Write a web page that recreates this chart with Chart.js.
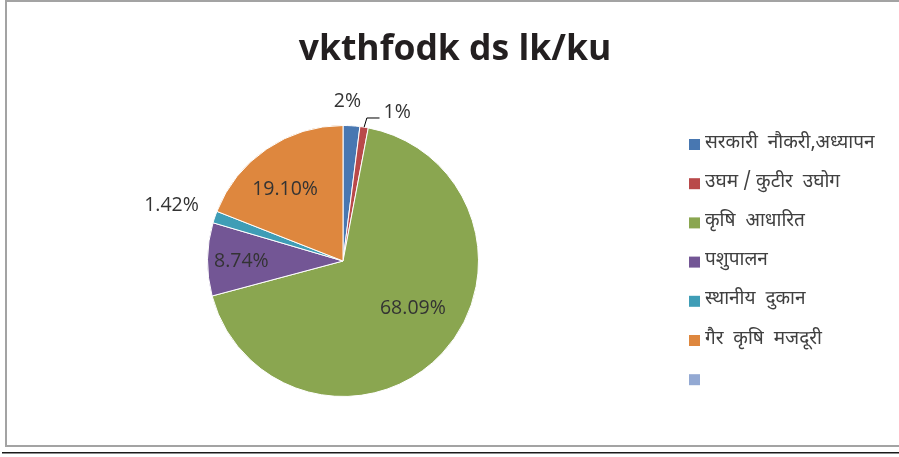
<!DOCTYPE html>
<html>
<head>
<meta charset="utf-8">
<script src="https://cdn.jsdelivr.net/npm/chart.js@4/dist/chart.umd.min.js"></script>
<style>
  html, body { margin: 0; padding: 0; background: #fff; }
  #wrap { width: 899px; height: 457px; position: relative; }
</style>
</head>
<body>
<div id="wrap"><canvas id="c" width="899" height="457"></canvas></div>
<script>
// Chart content
const chartTitle = 'vkthfodk ds lk/ku';
const categories = [
  'सरकारी  नौकरी,अध्यापन',
  'उघम / कुटीर  उघोग',
  'कृषि  आधारित',
  'पशुपालन',
  'स्थानीय  दुकान',
  'गैर  कृषि  मजदूरी',
  ''
];
const shares = [2, 1, 68.09, 8.74, 1.42, 19.10, 0];

// Styling
const sliceColors = ['#4877B1', '#B9494A', '#8AA650', '#735695', '#3F9DB6', '#DE873E', '#93A9D3'];
// Label placement: radius factor and angular nudge (degrees) from each slice's middle
const labelPlacement = [
  { r: 1.18, da: -2 },
  { r: 1.17, da: 11, leader: true },
  { r: 0.625, da: -8.5 },
  { r: 0.75, da: -0.7 },
  { r: 1.33, da: -1 },
  { r: 0.68, da: -4.7 },
  null
];

const fmtPct = v => (Number.isInteger(v) ? String(v) : v.toFixed(2)) + '%';

const framePlugin = {
  id: 'frame',
  beforeDraw(chart) {
    const ctx = chart.ctx;
    ctx.save();
    ctx.fillStyle = '#fff';
    ctx.fillRect(0, 0, chart.width, chart.height);
    ctx.strokeStyle = '#A3A3A3';
    ctx.lineWidth = 2;
    ctx.beginPath();
    ctx.moveTo(899, 1); ctx.lineTo(6, 1); ctx.lineTo(6, 446); ctx.lineTo(899, 446);
    ctx.stroke();
    ctx.strokeStyle = '#1a1a1a';
    ctx.lineWidth = 1.5;
    ctx.beginPath();
    ctx.moveTo(2, 452.75); ctx.lineTo(899, 452.75);
    ctx.stroke();
    // title
    ctx.fillStyle = '#231F20';
    ctx.font = 'bold 35.5px "Open Sans"';
    ctx.textAlign = 'center';
    ctx.textBaseline = 'alphabetic';
    ctx.fillText(chartTitle, 455, 60);
    ctx.restore();
  }
};

const labelPlugin = {
  id: 'sliceLabels',
  afterDatasetsDraw(chart) {
    const ctx = chart.ctx;
    const meta = chart.getDatasetMeta(0);
    const values = chart.data.datasets[0].data;
    ctx.save();
    ctx.font = '19.5px "Open Sans"';
    ctx.fillStyle = '#333333';
    ctx.textAlign = 'center';
    ctx.textBaseline = 'middle';
    meta.data.forEach((arc, i) => {
      const p = labelPlacement[i];
      if (!p || !values[i]) return;
      const { x, y, startAngle, endAngle, outerRadius } = arc.getProps(['x', 'y', 'startAngle', 'endAngle', 'outerRadius'], true);
      const mid = (startAngle + endAngle) / 2;
      const a = mid + p.da * Math.PI / 180;
      const lx = x + Math.cos(a) * outerRadius * p.r;
      const ly = y + Math.sin(a) * outerRadius * p.r;
      const text = fmtPct(values[i]);
      ctx.fillText(text, lx, ly);
      if (p.leader) {
        const w = ctx.measureText(text).width;
        const ex = x + Math.cos(mid) * outerRadius, ey = y + Math.sin(mid) * outerRadius;
        const a2 = mid + 0.5 * Math.PI / 180;
        const bx = x + Math.cos(a2) * outerRadius * 1.07, by = y + Math.sin(a2) * outerRadius * 1.07;
        ctx.strokeStyle = '#000';
        ctx.lineWidth = 1;
        ctx.beginPath();
        ctx.moveTo(ex, ey);
        ctx.lineTo(bx, by);
        ctx.lineTo(lx - w / 2 - 4, by);
        ctx.stroke();
      }
    });
    ctx.restore();
  }
};

const legendPlugin = {
  id: 'sideLegend',
  afterDraw(chart) {
    const ctx = chart.ctx;
    const labels = chart.data.labels;
    const colors = chart.data.datasets[0].backgroundColor;
    ctx.save();
    ctx.font = '19px "Noto Sans Devanagari", "Noto Sans", sans-serif';
    ctx.textAlign = 'left';
    ctx.textBaseline = 'middle';
    labels.forEach((lab, i) => {
      const cy = 144 + i * 39.2;
      ctx.fillStyle = colors[i];
      ctx.fillRect(689, cy - 5, 11, 11);
      ctx.fillStyle = '#404040';
      ctx.fillText(lab, 705, cy);
    });
    ctx.restore();
  }
};

new Chart(document.getElementById('c'), {
  type: 'pie',
  data: {
    labels: categories,
    datasets: [{
      data: shares,
      backgroundColor: sliceColors,
      borderColor: '#ffffff',
      borderWidth: 1
    }]
  },
  options: {
    responsive: false,
    animation: false,
    layout: { padding: { left: 207, top: 125, right: 420, bottom: 60 } },
    plugins: {
      legend: { display: false },
      title: { display: false },
      tooltip: { enabled: false }
    }
  },
  plugins: [framePlugin, labelPlugin, legendPlugin]
});
</script>
</body>
</html>
